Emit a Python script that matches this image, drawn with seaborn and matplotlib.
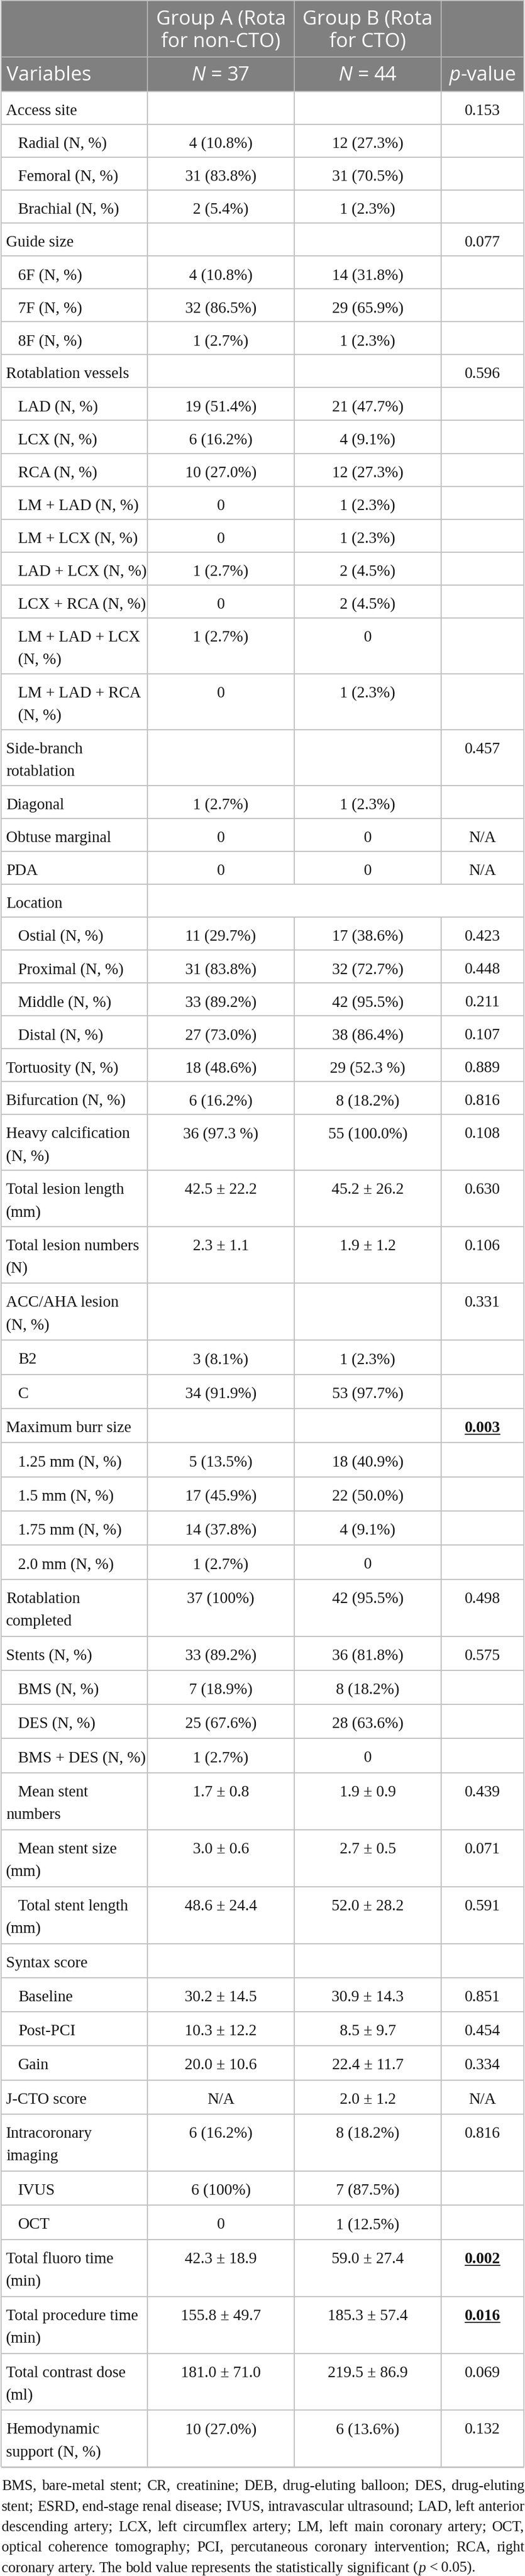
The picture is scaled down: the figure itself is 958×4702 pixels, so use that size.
import matplotlib
matplotlib.use("Agg")
import matplotlib.pyplot as plt
import seaborn as sns
from matplotlib.patches import Rectangle

# ---------------- data ----------------
group_titles = ["Group A (Rota\nfor non-CTO)", "Group B (Rota\nfor CTO)"]
group_sizes = ["37", "44"]

variables = [
    "Access site", "Radial (N, %)", "Femoral (N, %)", "Brachial (N, %)",
    "Guide size", "6F (N, %)", "7F (N, %)", "8F (N, %)",
    "Rotablation vessels", "LAD (N, %)", "LCX (N, %)", "RCA (N, %)",
    "LM + LAD (N, %)", "LM + LCX (N, %)", "LAD + LCX (N, %)", "LCX + RCA (N, %)",
    "LM + LAD + LCX\n(N, %)", "LM + LAD + RCA\n(N, %)",
    "Side-branch\nrotablation", "Diagonal", "Obtuse marginal", "PDA",
    "Location", "Ostial (N, %)", "Proximal (N, %)", "Middle (N, %)", "Distal (N, %)",
    "Tortuosity (N, %)", "Bifurcation (N, %)", "Heavy calcification\n(N, %)",
    "Total lesion length\n(mm)", "Total lesion numbers\n(N)", "ACC/AHA lesion\n(N, %)",
    "B2", "C", "Maximum burr size", "1.25 mm (N, %)", "1.5 mm (N, %)",
    "1.75 mm (N, %)", "2.0 mm (N, %)", "Rotablation\ncompleted", "Stents (N, %)",
    "BMS (N, %)", "DES (N, %)", "BMS + DES (N, %)", "Mean stent\nnumbers",
    "Mean stent size\n(mm)", "Total stent length\n(mm)", "Syntax score",
    "Baseline", "Post-PCI", "Gain", "J-CTO score", "Intracoronary\nimaging",
    "IVUS", "OCT", "Total fluoro time\n(min)", "Total procedure time\n(min)",
    "Total contrast dose\n(ml)", "Hemodynamic\nsupport (N, %)",
]

group_a = [
    "", "4 (10.8%)", "31 (83.8%)", "2 (5.4%)",
    "", "4 (10.8%)", "32 (86.5%)", "1 (2.7%)",
    "", "19 (51.4%)", "6 (16.2%)", "10 (27.0%)",
    "0", "0", "1 (2.7%)", "0",
    "1 (2.7%)", "0",
    "", "1 (2.7%)", "0", "0",
    "", "11 (29.7%)", "31 (83.8%)", "33 (89.2%)", "27 (73.0%)",
    "18 (48.6%)", "6 (16.2%)", "36 (97.3 %)",
    "42.5 ± 22.2", "2.3 ± 1.1", "",
    "3 (8.1%)", "34 (91.9%)", "", "5 (13.5%)", "17 (45.9%)",
    "14 (37.8%)", "1 (2.7%)", "37 (100%)", "33 (89.2%)",
    "7 (18.9%)", "25 (67.6%)", "1 (2.7%)", "1.7 ± 0.8",
    "3.0 ± 0.6", "48.6 ± 24.4", "",
    "30.2 ± 14.5", "10.3 ± 12.2", "20.0 ± 10.6", "N/A", "6 (16.2%)",
    "6 (100%)", "0", "42.3 ± 18.9", "155.8 ± 49.7",
    "181.0 ± 71.0", "10 (27.0%)",
]

group_b = [
    "", "12 (27.3%)", "31 (70.5%)", "1 (2.3%)",
    "", "14 (31.8%)", "29 (65.9%)", "1 (2.3%)",
    "", "21 (47.7%)", "4 (9.1%)", "12 (27.3%)",
    "1 (2.3%)", "1 (2.3%)", "2 (4.5%)", "2 (4.5%)",
    "0", "1 (2.3%)",
    "", "1 (2.3%)", "0", "0",
    "", "17 (38.6%)", "32 (72.7%)", "42 (95.5%)", "38 (86.4%)",
    "29 (52.3 %)", "8 (18.2%)", "55 (100.0%)",
    "45.2 ± 26.2", "1.9 ± 1.2", "",
    "1 (2.3%)", "53 (97.7%)", "", "18 (40.9%)", "22 (50.0%)",
    "4 (9.1%)", "0", "42 (95.5%)", "36 (81.8%)",
    "8 (18.2%)", "28 (63.6%)", "0", "1.9 ± 0.9",
    "2.7 ± 0.5", "52.0 ± 28.2", "",
    "30.9 ± 14.3", "8.5 ± 9.7", "22.4 ± 11.7", "2.0 ± 1.2", "8 (18.2%)",
    "7 (87.5%)", "1 (12.5%)", "59.0 ± 27.4", "185.3 ± 57.4",
    "219.5 ± 86.9", "6 (13.6%)",
]

p_values = [
    "0.153", "", "", "",
    "0.077", "", "", "",
    "0.596", "", "", "",
    "", "", "", "",
    "", "",
    "0.457", "", "N/A", "N/A",
    "", "0.423", "0.448", "0.211", "0.107",
    "0.889", "0.816", "0.108",
    "0.630", "0.106", "0.331",
    "", "", "0.003", "", "",
    "", "", "0.498", "0.575",
    "", "", "", "0.439",
    "0.071", "0.591", "",
    "0.851", "0.454", "0.334", "N/A", "0.816",
    "", "", "0.002", "0.016",
    "0.069", "0.132",
]

indented_rows = {
    "Radial (N, %)", "Femoral (N, %)", "Brachial (N, %)",
    "6F (N, %)", "7F (N, %)", "8F (N, %)",
    "LAD (N, %)", "LCX (N, %)", "RCA (N, %)", "LM + LAD (N, %)", "LM + LCX (N, %)",
    "LAD + LCX (N, %)", "LCX + RCA (N, %)", "LM + LAD + LCX\n(N, %)", "LM + LAD + RCA\n(N, %)",
    "Ostial (N, %)", "Proximal (N, %)", "Middle (N, %)", "Distal (N, %)",
    "B2", "C", "1.25 mm (N, %)", "1.5 mm (N, %)", "1.75 mm (N, %)", "2.0 mm (N, %)",
    "BMS (N, %)", "DES (N, %)", "BMS + DES (N, %)",
    "Baseline", "Post-PCI", "Gain", "IVUS", "OCT",
}
first_line_indented_rows = {"Mean stent\nnumbers", "Mean stent size\n(mm)", "Total stent length\n(mm)"}
merged_rows = {"Location"}

footnote_lines = [
    "BMS, bare-metal stent; CR, creatinine; DEB, drug-eluting balloon; DES, drug-eluting",
    "stent; ESRD, end-stage renal disease; IVUS, intravascular ultrasound; LAD, left anterior",
    "descending artery; LCX, left circumflex artery; LM, left main coronary artery; OCT,",
    "optical coherence tomography; PCI, percutaneous coronary intervention; RCA, right",
    "coronary artery. The bold value represents the statistically significant (p < 0.05).",
]

# ---------------- layout / style ----------------
W, H = 958, 4702
col_edges = [2, 269, 537, 805, 956]
col_centers = [(col_edges[i] + col_edges[i + 1]) / 2 for i in range(4)]
HEAD_SPLIT, BODY_TOP = 104, 167
# the upper part of the reference table is rendered slightly tighter than the lower part
SPLIT_LABEL = "Total lesion numbers\n(N)"
ROW_H_UPPER, EXTRA_UPPER = 60.05, 42.0
ROW_H_LOWER, EXTRA_LOWER = 62.3, 41.65
HEADER_BG = "#808080"
HEADER_LINE = "#b3b3b3"
GRID = "#c2c2c2"
TXT = "#141414"
LW = 1.5

sns.set_theme(style="white")
plt.rcParams["font.family"] = ["Liberation Serif", "DejaVu Serif"]

fig = plt.figure(figsize=(W / 100, H / 100), dpi=100)
ax = fig.add_axes([0, 0, 1, 1])
ax.set_xlim(0, W)
ax.set_ylim(H, 0)
ax.axis("off")
renderer = fig.canvas.get_renderer()

SERIF = ["Liberation Serif", "DejaVu Serif"]
head_kw = dict(family=["Open Sans", "DejaVu Sans"], fontsize=26, color="white")


def measure(s, **kw):
    t = ax.text(0, 0, s, **kw)
    w = t.get_window_extent(renderer).width
    t.remove()
    return w


# calibrate serif sizes to the widths seen in the reference
_ref = 20.0
_w = measure("Access site", family=SERIF, fontsize=_ref) + \
    measure("Total procedure time", family=SERIF, fontsize=_ref)
body_size = _ref * (122 + 249) / _w
_wf = measure(footnote_lines[-1], family=SERIF, fontsize=_ref)
foot_size = _ref * 865 / _wf

body_kw = dict(family=SERIF, fontsize=body_size, color=TXT)
foot_kw = dict(family=SERIF, fontsize=foot_size, color=TXT)


def space_width(**kw):
    return measure("a a", **kw) - measure("aa", **kw)


def draw_seq(x, y, items, ha="left", **base):
    """items: list of (text, extra_kw) or float gaps (in pixels)."""
    widths = []
    for it in items:
        if isinstance(it, (int, float)):
            widths.append(it)
        else:
            widths.append(measure(it[0], **{**base, **it[1]}))
    total = sum(widths)
    cur = x - total / 2 if ha == "center" else x
    for it, w in zip(items, widths):
        if not isinstance(it, (int, float)):
            ax.text(cur, y, it[0], ha="left", va="baseline", zorder=5, **{**base, **it[1]})
        cur += w


# ---------------- header ----------------
ax.add_patch(Rectangle((col_edges[0], 0), col_edges[-1] - col_edges[0], BODY_TOP,
                       facecolor=HEADER_BG, edgecolor="none", zorder=1))
for ci, title in enumerate(group_titles):
    for li, line in enumerate(title.split("\n")):
        ax.text(col_centers[ci + 1], 45 + 41 * li, line, ha="center", va="baseline",
                zorder=5, **head_kw)

ax.text(12, 147, "Variables", ha="left", va="baseline", zorder=5, **head_kw)
hsp = space_width(**head_kw)
for ci, n in enumerate(group_sizes):
    draw_seq(col_centers[ci + 1], 147,
             [("N", dict(style="italic")), hsp, ("=", {}), hsp, (n, {})],
             ha="center", **head_kw)
draw_seq(col_centers[3], 147, [("p", dict(style="italic")), ("-value", {})],
         ha="center", **head_kw)

ax.hlines(HEAD_SPLIT, col_edges[0], col_edges[-1], color=HEADER_LINE, lw=LW, zorder=3)
ax.vlines(col_edges[1:4], 0, BODY_TOP, color=HEADER_LINE, lw=LW, zorder=3)

# ---------------- body ----------------
tops = []
y = BODY_TOP
lower = False
for lab in variables:
    if lab == SPLIT_LABEL:
        lower = True
    tops.append(y)
    if lower:
        y += ROW_H_LOWER + EXTRA_LOWER * lab.count("\n")
    else:
        y += ROW_H_UPPER + EXTRA_UPPER * lab.count("\n")
table_bottom = y

for i, lab in enumerate(variables):
    top = tops[i]
    bot = tops[i + 1] if i + 1 < len(tops) else table_bottom
    base = top + 43
    for li, line in enumerate(lab.split("\n")):
        if lab in indented_rows or (lab in first_line_indented_rows and li == 0):
            x0 = 33
        else:
            x0 = 11
        ax.text(x0, base + 41 * li, line, ha="left", va="baseline", zorder=5, **body_kw)
    if group_a[i]:
        ax.text(col_centers[1], base, group_a[i], ha="center", va="baseline", zorder=5, **body_kw)
    if group_b[i]:
        ax.text(col_centers[2], base, group_b[i], ha="center", va="baseline", zorder=5, **body_kw)
    p = p_values[i]
    if p:
        significant = p != "N/A" and float(p) < 0.05
        kw = dict(body_kw, fontweight="bold") if significant else body_kw
        ax.text(col_centers[3], base, p, ha="center", va="baseline", zorder=5, **kw)
        if significant:
            w = measure(p, **kw)
            ax.hlines(base + 4, col_centers[3] - w / 2, col_centers[3] + w / 2,
                      color=TXT, lw=1.3, zorder=5)
    ax.hlines(top, col_edges[0], col_edges[-1], color=GRID, lw=LW, zorder=3)
    xs = [col_edges[1]] if lab in merged_rows else col_edges[1:4]
    ax.vlines(xs, top, bot, color=GRID, lw=LW, zorder=3)

ax.hlines(table_bottom, col_edges[0], col_edges[-1], color=GRID, lw=LW + 0.6, zorder=3)
ax.vlines([col_edges[0], col_edges[-1]], 0, table_bottom, color=GRID, lw=LW, zorder=3)
ax.hlines(1, col_edges[0], col_edges[-1], color=GRID, lw=LW, zorder=3)

# ---------------- footnote ----------------
left, right = 3, 957
for li, line in enumerate(footnote_lines):
    yb = table_bottom + 42 + 37.3 * li
    words = line.split(" ")
    segs = []
    for wd in words:
        if wd == "(p":
            segs.append([("(", {}), ("p", dict(style="italic"))])
        else:
            segs.append([(wd, {})])
    wws = [sum(measure(s, **{**foot_kw, **k}) for s, k in sg) for sg in segs]
    if li < len(footnote_lines) - 1:
        gap = (right - left - sum(wws)) / (len(words) - 1)
    else:
        gap = (865 - sum(wws)) / (len(words) - 1)
    cur = left
    for sg, ww in zip(segs, wws):
        draw_seq(cur, yb, sg, ha="left", **foot_kw)
        cur += ww + gap

fig.savefig("out.png", dpi=100, facecolor="white")
